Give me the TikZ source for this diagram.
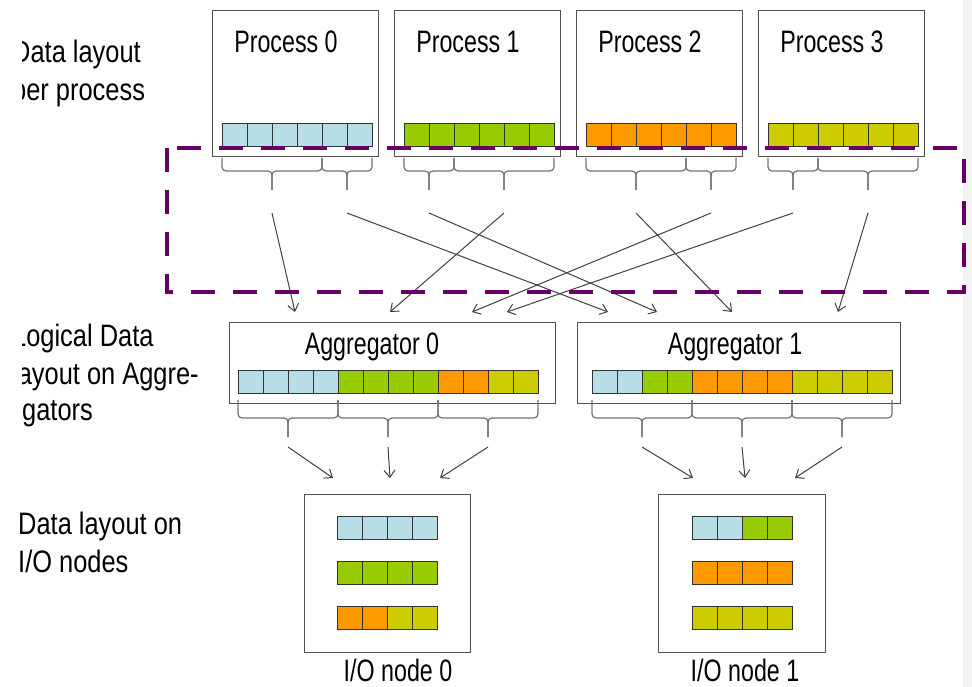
\documentclass[tikz,border=0pt]{standalone}
\usepackage{fontspec}
\setmainfont[FakeStretch=0.82]{Liberation Sans}
\newfontfamily\narrowfont[FakeStretch=0.75]{Liberation Sans}
\usetikzlibrary{arrows.meta}

\definecolor{cblue}{HTML}{B7DDE6}
\definecolor{cgreen}{HTML}{99CC00}
\definecolor{corange}{HTML}{FF9900}
\definecolor{cyellow}{HTML}{CCCC00}
\definecolor{cedge}{HTML}{333333}
\definecolor{frame}{HTML}{505050}
\definecolor{mpurple}{HTML}{660066}

\tikzset{
	box/.style={draw=frame, line width=1.3pt, fill=white, anchor=north west, inner sep=0pt},
	lbl/.style={font=\narrowfont\fontsize{31}{36}\selectfont, inner sep=0pt},
	side/.style={font=\fontsize{31}{38}\selectfont, align=left, anchor=north west, inner sep=0pt},
	cell/.style={draw=cedge, line width=0.9pt},
	brc/.style={draw=black!55, line width=1.2pt, rounded corners=4pt},
	flow/.style={draw=black!75, line width=1pt, -{Straight Barb[length=7pt,width=11pt]}},
}

% row of coloured cells: x, y (top), colours
\newcommand{\cellbar}[3]{%
	\foreach \cc [count=\k from 0] in {#3}{
		\filldraw[cell, fill=\cc] ({#1+25*\k},#2) rectangle ++(25,23);
	}}
% curly brace below a row: x1, x2, top, horizontal, tip
\newcommand{\curly}[5]{%
	\draw[brc] (#1,#3) -- (#1,#4) -- ({(#1+#2)/2},#4) -- ({(#1+#2)/2},#5);
	\draw[brc] (#2,#3) -- (#2,#4) -- ({(#1+#2)/2},#4) -- ({(#1+#2)/2},#5);}

\begin{document}
\begin{tikzpicture}[x=1pt,y=-1pt]

\useasboundingbox (0,0) rectangle (972,687);
\fill[gray!10] (963,0) rectangle (972,687);

% side labels
\begin{scope}
\clip (22,0) rectangle (215,460);
\node[side] (lay0) at (12,40) {Data layout\\per process};
\node[side] (lay1) at (12,324) {Logical Data\\layout on Aggre-};
\end{scope}
\node[side] (lay1b) at (22,400) {gators};
\node[side] (lay2) at (18,512) {Data layout on\\I/O nodes};

% processes
\foreach \i/\col in {0/cblue,1/cgreen,2/corange,3/cyellow}{
	\node[box, minimum width=166pt, minimum height=146pt] (proc\i) at ({212+182*\i},10) {};
	\node[lbl] (ptxt\i) at ({286+182*\i},42) {Process \i};
	\cellbar{222+182*\i}{123}{\col,\col,\col,\col,\col,\col}
}
\foreach \a/\b in {222/322, 322/372, 404/454, 454/554, 586/686, 686/736, 768/818, 818/918}{
	\curly{\a}{\b}{158}{171}{190}
}

% aggregators
\node[box, minimum width=326pt, minimum height=81pt] (agg0) at (229,322) {};
\node[box, minimum width=323pt, minimum height=81pt] (agg1) at (577,322) {};
\node[lbl] (atxt0) at (372,347) {Aggregator 0};
\node[lbl] (atxt1) at (735,347) {Aggregator 1};
\cellbar{238}{370}{cblue,cblue,cblue,cblue,cgreen,cgreen,cgreen,cgreen,corange,corange,cyellow,cyellow}
\cellbar{592}{370}{cblue,cblue,cgreen,cgreen,corange,corange,corange,corange,cyellow,cyellow,cyellow,cyellow}
\foreach \a/\b in {238/338, 338/438, 438/538, 592/692, 692/792, 792/892}{
	\curly{\a}{\b}{400}{418}{437}
}

% I/O nodes
\node[box, minimum width=166pt, minimum height=158pt] (io0) at (304,494) {};
\node[box, minimum width=167pt, minimum height=158pt] (io1) at (658,494) {};
\cellbar{337}{516}{cblue,cblue,cblue,cblue}
\cellbar{337}{561}{cgreen,cgreen,cgreen,cgreen}
\cellbar{337}{606}{corange,corange,cyellow,cyellow}
\cellbar{692}{516}{cblue,cblue,cgreen,cgreen}
\cellbar{692}{561}{corange,corange,corange,corange}
\cellbar{692}{606}{cyellow,cyellow,cyellow,cyellow}
\node[lbl, anchor=base] (iotxt0) at (398,681) {I/O node 0};
\node[lbl, anchor=base] (iotxt1) at (745,681) {I/O node 1};

% exchange between processes and aggregators
\foreach \n/\sx/\tx in {0a/272/295, 0b/347/608, 1a/429/657, 1b/504/390,
	2a/636/732, 2b/711/472, 3a/793/507, 3b/868/838}{
	\coordinate (s\n) at (\sx,213);
	\coordinate (t\n) at (\tx,312);
	\draw[flow] (s\n) -- (t\n);
}
% aggregators to I/O nodes
\foreach \n/\sx/\tx in {0/288/333, 1/388/390, 2/488/440, 3/642/693, 4/742/745, 5/842/795}{
	\coordinate (u\n) at (\sx,447);
	\coordinate (v\n) at (\tx,478);
	\draw[flow] (u\n) -- (v\n);
}

\draw[mpurple, line width=4.5pt, dash pattern=on 24pt off 18pt] (167,148) rectangle (964,292);

\end{tikzpicture}
\end{document}
